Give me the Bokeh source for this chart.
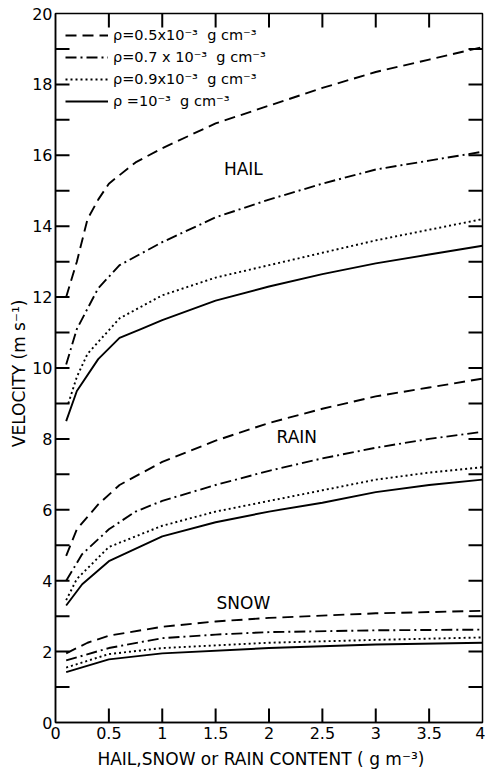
from bokeh.plotting import figure
from bokeh.models import (Range1d, FixedTicker, NumeralTickFormatter,
                          Legend, LegendItem, Label)
from bokeh.embed import file_html
from bokeh.resources import INLINE

# Terminal fall velocity vs. hydrometeor content for four particle densities
# Hail
hail_x_05 = [0.1, 0.2, 0.3, 0.4, 0.5, 0.75, 1.0, 1.5, 2.0, 2.5, 3.0, 3.5, 4.0]
hail_v_05 = [12.0, 13.0, 14.2, 14.75, 15.2, 15.8, 16.2, 16.9, 17.4, 17.9, 18.35, 18.7, 19.05]
hail_x_07 = [0.1, 0.2, 0.4, 0.6, 1.0, 1.5, 2.0, 2.5, 3.0, 3.5, 4.0]
hail_v_07 = [10.1, 11.1, 12.25, 12.9, 13.55, 14.25, 14.75, 15.2, 15.6, 15.85, 16.1]
hail_x_09 = [0.12, 0.2, 0.3, 0.6, 1.0, 1.5, 2.0, 2.5, 3.0, 3.5, 4.0]
hail_v_09 = [9.0, 9.75, 10.4, 11.4, 12.05, 12.55, 12.9, 13.25, 13.6, 13.9, 14.2]
hail_x_10 = [0.1, 0.2, 0.4, 0.6, 0.8, 1.0, 1.5, 2.0, 2.5, 3.0, 3.5, 4.0]
hail_v_10 = [8.5, 9.35, 10.25, 10.85, 11.1, 11.35, 11.9, 12.3, 12.65, 12.95, 13.2, 13.45]

# Rain
rain_x_05 = [0.1, 0.2, 0.4, 0.6, 1.0, 1.5, 2.0, 2.5, 3.0, 3.5, 4.0]
rain_v_05 = [4.7, 5.45, 6.15, 6.7, 7.35, 7.95, 8.45, 8.85, 9.2, 9.45, 9.7]
rain_x_07 = [0.1, 0.25, 0.5, 0.75, 1.0, 1.5, 2.0, 2.5, 3.0, 3.5, 4.0]
rain_v_07 = [4.0, 4.75, 5.45, 5.95, 6.25, 6.7, 7.1, 7.45, 7.75, 8.0, 8.2]
rain_x_09 = [0.1, 0.2, 0.5, 1.0, 1.5, 2.0, 2.5, 3.0, 3.5, 4.0]
rain_v_09 = [3.45, 4.05, 4.95, 5.55, 5.95, 6.25, 6.55, 6.85, 7.05, 7.2]
rain_x_10 = [0.1, 0.25, 0.5, 1.0, 1.5, 2.0, 2.5, 3.0, 3.5, 4.0]
rain_v_10 = [3.3, 3.9, 4.55, 5.25, 5.65, 5.95, 6.2, 6.5, 6.7, 6.85]

# Snow
snow_x_05 = [0.1, 0.3, 0.5, 1.0, 1.5, 2.0, 3.0, 4.0]
snow_v_05 = [1.95, 2.25, 2.45, 2.7, 2.85, 2.95, 3.08, 3.15]
snow_x_07 = [0.1, 0.5, 1.0, 1.5, 2.0, 3.0, 4.0]
snow_v_07 = [1.75, 2.1, 2.38, 2.48, 2.55, 2.6, 2.62]
snow_x_09 = [0.1, 0.5, 1.0, 2.0, 3.0, 4.0]
snow_v_09 = [1.55, 1.93, 2.1, 2.25, 2.33, 2.4]
snow_x_10 = [0.1, 0.5, 1.0, 2.0, 3.0, 4.0]
snow_v_10 = [1.42, 1.78, 1.95, 2.1, 2.2, 2.25]

density_labels = ["\u03c1=0.5x10\u207b\u00b3  g cm\u207b\u00b3",
                  "\u03c1=0.7 x 10\u207b\u00b3  g cm\u207b\u00b3",
                  "\u03c1=0.9x10\u207b\u00b3  g cm\u207b\u00b3",
                  "\u03c1 =10\u207b\u00b3  g cm\u207b\u00b3"]
region_names = ["HAIL", "RAIN", "SNOW"]
x_ticks = [0, 0.5, 1, 1.5, 2, 2.5, 3, 3.5, 4]
y_ticks = [0, 2, 4, 6, 8, 10, 12, 14, 16, 18, 20]
y_tick_marks = list(range(1, 20))
x_tick_marks = [0.5, 1, 1.5, 2, 2.5, 3, 3.5]

FONT = "DejaVu Sans"
INK = "black"

W, H = 485, 774
BL, BR, BT, BB = 55, 3, 13, 52
X0, X1, Y0, Y1 = 0, 4, 0, 20

p = figure(width=W, height=H, output_backend="svg", toolbar_location=None,
           x_range=Range1d(X0, X1), y_range=Range1d(Y0, Y1),
           min_border_left=BL, min_border_right=BR, min_border_top=BT,
           min_border_bottom=BB)
p.xgrid.visible = False
p.ygrid.visible = False
p.outline_line_color = INK
p.outline_line_width = 1.5

# Inward tick marks on all four edges as thin filled bars (14 px x 2 px)
px_x = (X1 - X0) / (W - BL - BR)      # data units per pixel, x
px_y = (Y1 - Y0) / (H - BT - BB)      # data units per pixel, y
tick_len, tick_w = 14, 2
q_left, q_right, q_bottom, q_top = [], [], [], []
for t in y_tick_marks:
    # left edge
    q_left.append(X0)
    q_right.append(X0 + tick_len * px_x)
    q_bottom.append(t - tick_w / 2 * px_y)
    q_top.append(t + tick_w / 2 * px_y)
    # right edge
    q_left.append(X1 - tick_len * px_x)
    q_right.append(X1)
    q_bottom.append(t - tick_w / 2 * px_y)
    q_top.append(t + tick_w / 2 * px_y)
for t in x_tick_marks:
    # bottom edge
    q_left.append(t - tick_w / 2 * px_x)
    q_right.append(t + tick_w / 2 * px_x)
    q_bottom.append(Y0)
    q_top.append(Y0 + tick_len * px_y)
    # top edge
    q_left.append(t - tick_w / 2 * px_x)
    q_right.append(t + tick_w / 2 * px_x)
    q_bottom.append(Y1 - tick_len * px_y)
    q_top.append(Y1)
p.quad(left=q_left, right=q_right, bottom=q_bottom, top=q_top,
       fill_color=INK, line_color=None)

styles = [dict(line_dash="11 6"),
          dict(line_dash="11 4 2 4"),
          dict(line_dash="2 3"),
          dict(line_dash="solid")]

series = [
    [(hail_x_05, hail_v_05), (hail_x_07, hail_v_07), (hail_x_09, hail_v_09), (hail_x_10, hail_v_10)],
    [(rain_x_05, rain_v_05), (rain_x_07, rain_v_07), (rain_x_09, rain_v_09), (rain_x_10, rain_v_10)],
    [(snow_x_05, snow_v_05), (snow_x_07, snow_v_07), (snow_x_09, snow_v_09), (snow_x_10, snow_v_10)],
]

legend_renderers = []
for gi, group in enumerate(series):
    for si, (xs, vs) in enumerate(group):
        r = p.line(xs, vs, line_color=INK, line_width=1.9, **styles[si])
        if gi == 0:
            legend_renderers.append(r)

legend = Legend(items=[LegendItem(label=lab, renderers=[r])
                       for lab, r in zip(density_labels, legend_renderers)],
                margin=0, padding=0, spacing=2,
                glyph_width=43, glyph_height=20, label_height=20,
                label_standoff=5, label_text_font=FONT,
                label_text_font_size="14.5px", label_text_color=INK,
                background_fill_alpha=0, border_line_alpha=0)
legend.location = (10, 611)
p.add_layout(legend)

# Region names
for name, (lx, ly) in zip(region_names, [(1.76, 15.6), (2.26, 8.05), (1.76, 3.38)]):
    p.add_layout(Label(x=lx, y=ly, text=name, text_font=FONT, text_font_size="17px",
                       text_color=INK, text_align="center", text_baseline="middle"))

# Left and bottom axes carry the numbers and titles
xa = p.xaxis[0]
xa.ticker = FixedTicker(ticks=x_ticks)
xa.formatter = NumeralTickFormatter(format="0.[0]")
xa.axis_label = "HAIL,SNOW or RAIN CONTENT   ( g  m\u207b\u00b3)"
ya = p.yaxis[0]
ya.ticker = FixedTicker(ticks=y_ticks)
ya.axis_label = "VELOCITY  (m  s\u207b\u00b9)"

for ax in (xa, ya):
    ax.axis_line_color = INK
    ax.axis_line_width = 1.5
    ax.major_tick_in = 0
    ax.major_tick_out = 0
    ax.major_tick_line_color = None
    ax.minor_tick_line_color = None
    ax.major_label_text_font = FONT
    ax.major_label_text_font_size = "16px"
    ax.major_label_text_color = INK
    ax.axis_label_text_font = FONT
    ax.axis_label_text_font_size = "17px"
    ax.axis_label_text_font_style = "normal"
    ax.axis_label_text_color = INK
xa.major_label_standoff = 4
xa.axis_label_standoff = 7
ya.major_label_standoff = 3
ya.axis_label_standoff = 0

open("out.html", "w").write(file_html(p, INLINE))
